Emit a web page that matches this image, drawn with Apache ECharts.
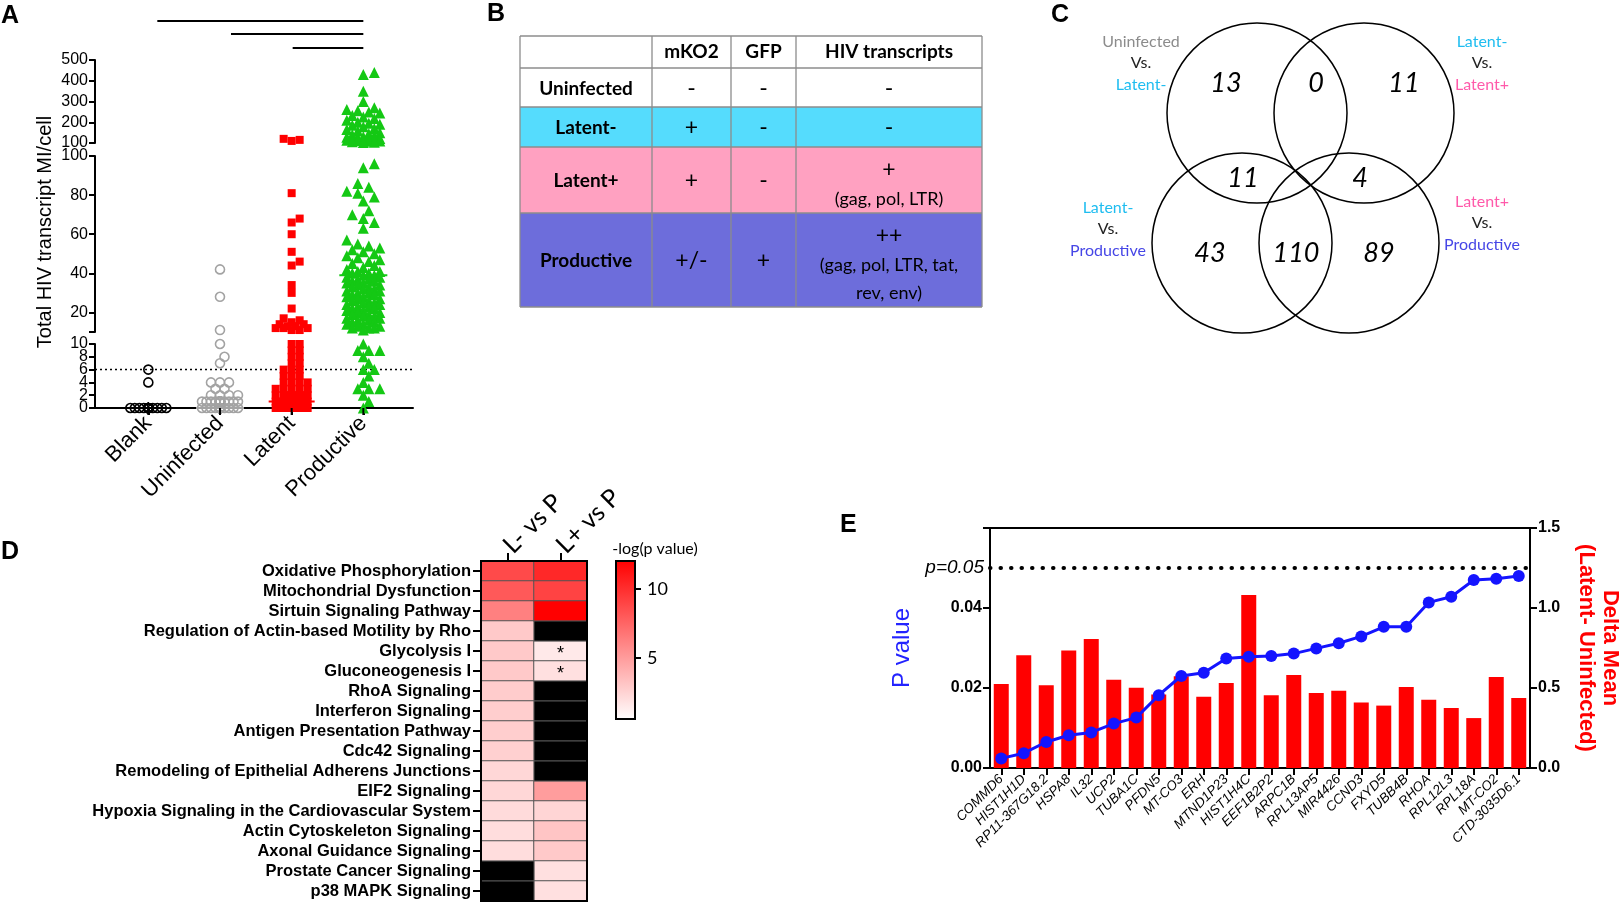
<!DOCTYPE html>
<html>
<head>
<meta charset="utf-8">
<script src="https://cdn.jsdelivr.net/npm/echarts@6/dist/echarts.min.js"></script>
<style>
html,body{margin:0;padding:0;background:#fff;}
#c{width:1619px;height:902px;}
</style>
</head>
<body>
<div id="c"></div>
<script>
// ================= DATA =================
// Panel A : total HIV transcript MI per cell
const groupNames = ['Blank', 'Uninfected', 'Latent', 'Productive'];
const blankValues = [6, 4,
  0,0,0,0,0,0,0,0,0,0,0,0,0,0,0,0,0,0,0,0,0,0,0,0,0,0,0,0];
const uninfectedValues = [42, 28, 11, 10, 8, 7, 4, 4, 4, 3, 3, 2, 2, 2, 2,
  1,1,1,1,1,1,1,1,1,1,1,1,1,1,1,1,1,1,1,1,
  0,0,0,0,0,0,0,0,0,0,0,0,0,0,0,0,0,0,0,0,0,0,0,0,0,0,0,0,0,0,0,0,0,0,0,0,0,0,0,0];
const latentValues = [120, 115, 110, 81, 68, 66, 60, 51, 46, 44, 34, 30, 22, 17, 16, 15, 14, 14, 13, 13, 12, 12, 12, 11, 11,
  10, 10, 9, 9, 8, 8, 7, 7, 6, 6, 6, 5, 5, 5, 4, 4, 4, 4, 3, 3, 3, 3, 3, 2, 2, 2, 2, 2, 2, 2, 2,
  1,1,1,1,1,1,1,1,1,1,1,1,1,1,1,1,1,1,1,1,1,1,1,1,1,1,1,1,1,1,
  0,0,0,0,0,0,0,0,0,0,0,0,0,0,0,0,0,0,0,0,0,0,0,0,0,0,0,0,0,0,0,0,0,0,0,0,0,0,0,0,0,0,0,0,0,0,0,0,0,0];
const productiveValues = [440, 430, 350, 300, 270, 262, 255, 250, 245, 232, 225, 218, 210, 200, 195, 190, 185, 178, 170, 165,
  158, 150, 145, 140, 135, 130, 128, 125, 122, 120, 118, 117, 115, 113, 112, 110, 108, 106, 104, 102,
  96, 94, 86, 84, 82, 81, 79, 77, 72, 70, 68, 66, 63, 57, 55, 54, 53, 52, 51, 50, 49, 48, 47, 46, 45, 44, 43, 42,
  41, 41, 40, 40, 39, 39, 38, 38, 37, 37, 36, 36, 35, 35, 34, 34, 33, 33, 32, 32, 31, 31, 30, 30, 29, 29, 28, 28,
  27, 27, 26, 26, 25, 25, 24, 24, 23, 23, 22, 22, 21, 21, 20, 20, 19, 19, 18, 18, 17, 17, 16, 16, 15, 15, 14, 14,
  13, 13, 12, 12, 12, 11,
  10, 9, 9, 9, 8, 7, 6, 6, 5, 4, 3, 3, 3, 2, 1, 0];
const thresholdValue = 6;
const sigComparisons = [['Blank', 'Productive'], ['Uninfected', 'Productive'], ['Latent', 'Productive']];
const yTicksTop = [100, 200, 300, 400, 500];
const yTicksMid = [20, 40, 60, 80, 100];
const yTicksBottom = [0, 2, 4, 6, 8, 10];

// Panel B : table
const tableHeader = ['', 'mKO2', 'GFP', 'HIV transcripts'];
const tableRowNames = ['Uninfected', 'Latent-', 'Latent+', 'Productive'];
const tableMKO2 = ['-', '+', '+', '+/-'];
const tableGFP = ['-', '-', '-', '+'];
const tableHIV = ['-', '-', '+\n(gag, pol, LTR)', '++\n(gag, pol, LTR, tat,\nrev, env)'];

// Panel C : Venn
const vennComparisons = [['Uninfected', 'Vs.', 'Latent-'], ['Latent-', 'Vs.', 'Latent+'],
  ['Latent-', 'Vs.', 'Productive'], ['Latent+', 'Vs.', 'Productive']];
const vennCounts = [13, 0, 11, 11, 4, 43, 110, 89];

// Panel D : pathway heatmap (-log p)
const pathways = ['Oxidative Phosphorylation', 'Mitochondrial Dysfunction', 'Sirtuin Signaling Pathway',
  'Regulation of Actin-based Motility by Rho', 'Glycolysis I', 'Gluconeogenesis I', 'RhoA Signaling',
  'Interferon Signaling', 'Antigen Presentation Pathway', 'Cdc42 Signaling',
  'Remodeling of Epithelial Adherens Junctions', 'EIF2 Signaling', 'Hypoxia Signaling in the Cardiovascular System',
  'Actin Cytoskeleton Signaling', 'Axonal Guidance Signaling', 'Prostate Cancer Signaling', 'p38 MAPK Signaling'];
const heatColumns = ['L- vs P', 'L+ vs P'];
const lMinusVsP = [8.7, 8.0, 6.3, 3.0, 3.0, 3.0, 2.9, 2.8, 2.8, 2.7, 2.4, 2.4, 2.2, 2.1, 2.1, null, null];
const lPlusVsP = [10.2, 9.0, 12.0, null, 1.6, 2.0, null, null, null, null, null, 5.0, 2.5, 3.2, 3.0, 2.0, 2.0];
const lPlusStars = [false, false, false, false, true, true, false, false, false, false, false, false, false, false, false, false, false];
const heatMin = 0.6, heatMax = 12;
const colorbarTicks = [5, 10];

// Panel E : genes
const genes = ['COMMD6', 'HIST1H1D', 'RP11-367G18.2', 'HSPA8', 'IL32', 'UCP2', 'TUBA1C', 'PFDN5', 'MT-CO3', 'ERH',
  'MTND1P23', 'HIST1H4C', 'EEF1B2P2', 'ARPC1B', 'RPL13AP5', 'MIR4426', 'CCND3', 'FXYD5', 'TUBB4B', 'RHOA',
  'RPL12L3', 'RPL18A', 'MT-CO2', 'CTD-3035D6.1'];
const pValues = [0.0024, 0.0037, 0.0065, 0.0082, 0.0089, 0.0111, 0.0126, 0.0182, 0.0230, 0.0238,
  0.0274, 0.0278, 0.0280, 0.0286, 0.0299, 0.0312, 0.0329, 0.0353, 0.0353, 0.0414,
  0.0428, 0.0470, 0.0473, 0.0480];
const deltaMean = [0.525, 0.704, 0.517, 0.735, 0.806, 0.552, 0.502, 0.460, 0.573, 0.446,
  0.531, 1.081, 0.454, 0.581, 0.469, 0.483, 0.410, 0.390, 0.506, 0.427,
  0.375, 0.312, 0.569, 0.437];
const pThreshold = 0.05;

// ================= STYLE / LAYOUT =================
const F_ARIAL = '"Liberation Sans", Arial, sans-serif';
const F_CAL = 'Lato, "Open Sans", sans-serif';
const groupValues = [blankValues, uninfectedValues, latentValues, productiveValues];
const groupStyle = [
  {symbol: 'circle', size: 9, item: {color: 'rgba(0,0,0,0)', borderColor: '#000', borderWidth: 1.6}, line: '#000', half: 24},
  {symbol: 'circle', size: 9, item: {color: 'rgba(0,0,0,0)', borderColor: '#A3A3A3', borderWidth: 1.6}, line: '#A3A3A3', half: 24},
  {symbol: 'rect', size: 8, item: {color: '#FF0000'}, line: '#FF0000', half: 23},
  {symbol: 'triangle', size: 11, item: {color: '#14C814'}, line: '#14C814', half: 24}
];
const A_LEFT = 95, A_WIDTH = 318;
const A_GRIDS = [{top: 60, height: 83}, {top: 156, height: 176}, {top: 344, height: 64}];
const A_XMIN = 0.256, A_XMAX = 4.693;
const SIG_Y = [21, 34, 48];
const SIG_START_SHIFT = [9, 11, 1];
const HEAT = {left: 481, top: 561, width: 106, height: 340};
const CBAR = {left: 616, top: 561, width: 19, height: 158};
const E = {left: 990, top: 528, width: 540, height: 240};

function seg(v) { return v > 100 ? 0 : (v > 10 ? 1 : 2); }
function median(arr) {
  const s = arr.slice().sort((a, b) => a - b); const n = s.length;
  return n % 2 ? s[(n - 1) / 2] : (s[n / 2 - 1] + s[n / 2]) / 2;
}

const axisLineBlack = {show: true, lineStyle: {color: '#000', width: 2}};
const tickBlack = {show: true, length: 6, lineStyle: {color: '#000', width: 2}};

function textEl(x, y, text, style, extra) {
  return Object.assign({type: 'text', x: x, y: y, z: 50,
    style: Object.assign({text: text, fill: '#000', align: 'center', verticalAlign: 'middle'}, style)}, extra || {});
}

function buildGraphics(layout) {
  const g = [];
  // panel letters
  const letterStyle = {fontFamily: F_ARIAL, fontWeight: 'bold', fontSize: 25, align: 'left'};
  g.push(textEl(1, 16, 'A', letterStyle));
  g.push(textEl(487, 14, 'B', letterStyle));
  g.push(textEl(1051, 15, 'C', letterStyle));
  g.push(textEl(1, 552, 'D', letterStyle));
  g.push(textEl(840, 525, 'E', letterStyle));
  // A y-axis title
  g.push(textEl(45, 232, 'Total HIV transcript MI/cell', {fontFamily: F_ARIAL, fontSize: 20}, {rotation: Math.PI / 2}));
  if (layout) {
    // significance lines
    layout.sigLines.forEach(l => g.push({type: 'line', z: 50, shape: l, style: {stroke: '#000', lineWidth: 2}}));
    // category ticks of panel A x axis
    layout.catX.forEach(x => g.push({type: 'line', z: 50, shape: {x1: x, y1: layout.axisY, x2: x, y2: layout.axisY + 7},
      style: {stroke: '#000', lineWidth: 2}}));
    // tick labels of the lowest y segment (placed through the axis scale)
    layout.bottomTicks.forEach(t => g.push(textEl(A_LEFT - 7, t.y, String(t.v),
      {fontFamily: F_ARIAL, fontSize: 16, align: 'right'})));
  }

  // ---- Table B ----
  const colX = [520, 652, 731, 796, 982];
  const rowY = [36, 68, 107, 147, 213, 307];
  const rowFill = ['#FFFFFF', '#FFFFFF', '#55DCFD', '#FFA1C1', '#6D6DDB'];
  for (let r = 0; r < 5; r++) {
    g.push({type: 'rect', z: 40, shape: {x: colX[0], y: rowY[r], width: colX[4] - colX[0], height: rowY[r + 1] - rowY[r]},
      style: {fill: rowFill[r]}});
  }
  rowY.forEach(y => g.push({type: 'line', z: 41, shape: {x1: colX[0], y1: y, x2: colX[4], y2: y}, style: {stroke: '#8c8c8c', lineWidth: 1.3}}));
  colX.forEach(x => g.push({type: 'line', z: 41, shape: {x1: x, y1: rowY[0], x2: x, y2: rowY[5]}, style: {stroke: '#8c8c8c', lineWidth: 1.3}}));
  const cellRich = {
    s: {fontFamily: F_CAL, fontSize: 23, lineHeight: 30, fill: '#000'},
    t: {fontFamily: F_CAL, fontSize: 18, lineHeight: 28, fill: '#000'}
  };
  function cellText(str) {
    return str.split('\n').map(line => /^[+\-\/]+$/.test(line) ? '{s|' + line + '}' : '{t|' + line + '}').join('\n');
  }
  const colC = [0, 1, 2, 3].map(i => (colX[i] + colX[i + 1]) / 2);
  tableHeader.forEach((h, i) => {
    if (h) g.push(textEl(colC[i], 52, h, {fontFamily: F_CAL, fontWeight: 'bold', fontSize: 19}));
  });
  tableRowNames.forEach((name, r) => {
    const cy = (rowY[r + 1] + rowY[r + 2]) / 2 + 1;
    g.push(textEl(colC[0], cy, name, {fontFamily: F_CAL, fontWeight: 'bold', fontSize: 19}));
    [tableMKO2[r], tableGFP[r], tableHIV[r]].forEach((val, c) => {
      g.push(textEl(colC[c + 1], cy + (val.indexOf('\n') >= 0 ? 3 : 0), cellText(val), {rich: cellRich}));
    });
  });

  // ---- Venn C ----
  const vennCircles = [[1257, 113], [1364, 113], [1242, 243], [1349, 243]];
  vennCircles.forEach(c => g.push({type: 'circle', z: 40, shape: {cx: c[0], cy: c[1], r: 90},
    style: {fill: 'none', stroke: '#000', lineWidth: 1.5}}));
  const vennCountPos = [[1226, 83], [1316, 83], [1404, 83], [1243, 178], [1360, 178], [1210, 253], [1296, 253], [1379, 253]];
  vennCounts.forEach((n, i) => g.push(textEl(vennCountPos[i][0], vennCountPos[i][1], String(n),
    {fontFamily: F_CAL, fontStyle: 'italic', fontSize: 27})));
  const vennColor = {'Uninfected': '#8C8C8C', 'Vs.': '#222222', 'Latent-': '#1FBDF0', 'Latent+': '#FF5AAA', 'Productive': '#4646E6'};
  const vennKey = {'Uninfected': 'u', 'Vs.': 'v', 'Latent-': 'm', 'Latent+': 'p', 'Productive': 'q'};
  const vennRich = {};
  Object.keys(vennKey).forEach(k => { vennRich[vennKey[k]] = {fontFamily: F_CAL, fontSize: 16, lineHeight: 21.5, fill: vennColor[k]}; });
  const vennLabelPos = [[1141, 63], [1482, 63], [1108, 229], [1482, 223]];
  vennComparisons.forEach((lines, i) => {
    const txt = lines.map(l => '{' + vennKey[l] + '|' + l + '}').join('\n');
    g.push(textEl(vennLabelPos[i][0], vennLabelPos[i][1], txt, {rich: vennRich}));
  });

  // ---- D extras ----
  g.push({type: 'rect', z: 60, shape: {x: HEAT.left, y: HEAT.top, width: HEAT.width, height: HEAT.height},
    style: {fill: 'none', stroke: '#000', lineWidth: 2}});
  g.push(textEl(655, 549, '-log(p value)', {fontFamily: F_CAL, fontSize: 16}));

  // ---- E axis titles ----
  g.push(textEl(902, 648, 'P value', {fontFamily: F_ARIAL, fontSize: 24, fill: '#2323FF'}, {rotation: Math.PI / 2}));
  g.push(textEl(1598, 648, 'Delta Mean\n(Latent- Uninfected)', {fontFamily: F_ARIAL, fontWeight: 'bold', fontSize: 22,
    lineHeight: 24, fill: '#FF0000'}, {rotation: -Math.PI / 2}));
  return g;
}

function buildOption(offsets, layout) {
  const grid = [];
  const xAxis = [], yAxis = [], series = [];
  A_GRIDS.forEach((gd, s) => {
    grid.push({left: A_LEFT, top: gd.top, width: A_WIDTH, height: gd.height, outerBoundsMode: 'none', containLabel: false});
    xAxis.push({gridIndex: s, type: 'value', min: A_XMIN, max: A_XMAX, show: s === 2,
      axisLine: axisLineBlack, splitLine: {show: false},
      axisTick: {show: true, customValues: [1, 2, 3, 4], length: 7, lineStyle: {color: '#000', width: 2}},
      axisLabel: {show: true, customValues: [1, 2, 3, 4], rotate: 45, margin: 12, fontFamily: F_ARIAL, fontSize: 22, color: '#000',
        hideOverlap: false, formatter: v => (Number.isInteger(v) && v >= 1 && v <= 4) ? groupNames[v - 1] : ''}});
  });
  const yLabel = {fontFamily: F_ARIAL, fontSize: 16, color: '#000', margin: 7, showMinLabel: true, showMaxLabel: true,
    hideOverlap: false};
  yAxis.push({gridIndex: 0, type: 'value', min: 100, max: 500, interval: 100, axisLine: axisLineBlack, axisTick: tickBlack,
    splitLine: {show: false}, axisLabel: Object.assign({customValues: yTicksTop}, yLabel)});
  yAxis.push({gridIndex: 1, type: 'value', min: 10, max: 100, axisLine: axisLineBlack,
    axisTick: Object.assign({customValues: [10].concat(yTicksMid)}, tickBlack),
    splitLine: {show: false}, axisLabel: Object.assign({customValues: yTicksMid}, yLabel)});
  // lowest segment: labels are drawn as graphic texts (crowded ticks would otherwise be thinned)
  yAxis.push({gridIndex: 2, type: 'value', min: 0, max: 10, interval: 2, axisLine: axisLineBlack,
    axisTick: Object.assign({customValues: yTicksBottom}, tickBlack),
    splitLine: {show: false}, axisLabel: {show: false}});

  groupValues.forEach((vals, gi) => {
    const st = groupStyle[gi];
    for (let s = 0; s < 3; s++) {
      const data = [];
      vals.forEach((v, i) => {
        if (seg(v) === s) data.push({value: [gi + 1, v], symbolOffset: [offsets ? offsets[gi][i] : 0, 0]});
      });
      const ser = {type: 'scatter', xAxisIndex: s, yAxisIndex: s, symbol: st.symbol, symbolSize: st.size,
        itemStyle: Object.assign({opacity: 1}, st.item), data: data, silent: true, clip: false, z: 3 + gi};
      if (gi === 0 && s === 2) {
        ser.markLine = {silent: true, symbol: 'none', label: {show: false},
          lineStyle: {type: [2, 3], color: '#000', width: 1.3}, data: [{yAxis: thresholdValue}]};
      }
      series.push(ser);
    }
    const m = median(vals);
    series.push({type: 'custom', xAxisIndex: seg(m), yAxisIndex: seg(m), silent: true, z: 10, clip: false,
      data: [[gi + 1, m]],
      renderItem: (params, api) => {
        const p = api.coord([api.value(0), api.value(1)]);
        return {type: 'line', shape: {x1: p[0] - st.half, y1: p[1], x2: p[0] + st.half, y2: p[1]},
          style: {stroke: st.line, lineWidth: 2}};
      }});
  });

  // ---- D heatmap ----
  grid.push({left: HEAT.left, top: HEAT.top, width: HEAT.width, height: HEAT.height, outerBoundsMode: 'none', containLabel: false});
  grid.push({left: CBAR.left, top: CBAR.top, width: CBAR.width, height: CBAR.height, outerBoundsMode: 'none', containLabel: false});
  xAxis.push({gridIndex: 3, type: 'category', data: heatColumns, position: 'top',
    axisLine: axisLineBlack, axisTick: {show: true, alignWithLabel: true, length: 8, lineStyle: {color: '#000', width: 2}},
    axisLabel: {rotate: -45, margin: 12, fontFamily: F_CAL, fontSize: 25, color: '#000', interval: 0}, splitLine: {show: false}});
  yAxis.push({gridIndex: 3, type: 'category', data: pathways, inverse: true,
    axisLine: axisLineBlack, axisTick: {show: true, alignWithLabel: true, length: 8, lineStyle: {color: '#000', width: 2}},
    axisLabel: {margin: 10, fontFamily: F_ARIAL, fontWeight: 'bold', fontSize: 16.5, color: '#000', interval: 0, hideOverlap: false},
    splitLine: {show: false}});
  xAxis.push({gridIndex: 4, type: 'category', data: [''], show: false});
  yAxis.push({gridIndex: 4, type: 'value', min: heatMin, max: heatMax, position: 'right',
    axisLine: {show: false}, splitLine: {show: false},
    axisTick: {show: true, customValues: colorbarTicks, length: 6, inside: false, lineStyle: {color: '#000', width: 2}},
    axisLabel: {customValues: colorbarTicks, margin: 12, fontFamily: F_CAL, fontSize: 18, color: '#000'}});

  const heatData = [], naData = [];
  [lMinusVsP, lPlusVsP].forEach((col, ci) => col.forEach((v, ri) => {
    if (v === null) naData.push([ci, ri]); else heatData.push([ci, ri, v]);
  }));
  const heatSeriesIndex = series.length;
  series.push({type: 'heatmap', xAxisIndex: 3, yAxisIndex: 3, data: heatData, silent: true,
    itemStyle: {borderColor: '#555', borderWidth: 1},
    label: {show: true, fontSize: 18, color: '#000', fontFamily: F_ARIAL, offset: [0, 3],
      formatter: p => (p.value[0] === 1 && lPlusStars[p.value[1]]) ? '*' : ''}});
  series.push({type: 'custom', xAxisIndex: 3, yAxisIndex: 3, data: naData, silent: true,
    renderItem: (params, api) => {
      const c = api.coord([api.value(0), api.value(1)]);
      const sz = api.size([1, 1]);
      return {type: 'rect', shape: {x: c[0] - sz[0] / 2, y: c[1] - sz[1] / 2, width: sz[0], height: sz[1]},
        style: {fill: '#000', stroke: '#555', lineWidth: 1}};
    }});
  series.push({type: 'custom', xAxisIndex: 4, yAxisIndex: 4, data: [[0, heatMin, heatMax]], silent: true,
    renderItem: (params, api) => {
      const top = api.coord([0, api.value(2)]);
      const bot = api.coord([0, api.value(1)]);
      const w = api.size([1, 0])[0];
      return {type: 'rect', shape: {x: top[0] - w / 2, y: top[1], width: w, height: bot[1] - top[1]},
        style: {fill: new echarts.graphic.LinearGradient(0, 0, 0, 1, [{offset: 0, color: '#FF0000'}, {offset: 1, color: '#FFFFFF'}]),
          stroke: '#000', lineWidth: 2}};
    }});

  // ---- E ----
  grid.push({left: E.left, top: E.top, width: E.width, height: E.height, show: true, borderColor: '#000', borderWidth: 2,
    backgroundColor: 'transparent', outerBoundsMode: 'none', containLabel: false});
  xAxis.push({gridIndex: 5, type: 'category', data: genes, axisLine: axisLineBlack,
    axisTick: {show: true, alignWithLabel: true, length: 7, lineStyle: {color: '#000', width: 2}},
    axisLabel: {interval: 0, rotate: 45, margin: 9, fontFamily: F_ARIAL, fontStyle: 'italic', fontSize: 13.5, color: '#000',
      hideOverlap: false},
    splitLine: {show: false}});
  yAxis.push({gridIndex: 5, type: 'value', min: 0, max: 0.06, interval: 0.02, position: 'left',
    axisLine: axisLineBlack, axisTick: {show: true, length: 7, lineStyle: {color: '#000', width: 2}}, splitLine: {show: false},
    axisLabel: {fontFamily: F_ARIAL, fontWeight: 'bold', fontSize: 16, color: '#000', margin: 8,
      formatter: v => v > 0.055 ? '' : v.toFixed(2)}});
  yAxis.push({gridIndex: 5, type: 'value', min: 0, max: 1.5, interval: 0.5, position: 'right',
    axisLine: axisLineBlack, axisTick: {show: true, length: 7, lineStyle: {color: '#000', width: 2}}, splitLine: {show: false},
    axisLabel: {fontFamily: F_ARIAL, fontWeight: 'bold', fontSize: 16, color: '#000', margin: 8, formatter: v => v.toFixed(1)}});
  series.push({type: 'bar', xAxisIndex: 5, yAxisIndex: 6, data: deltaMean, barWidth: 15, silent: true,
    itemStyle: {color: '#FF0000'}, z: 2});
  series.push({type: 'line', xAxisIndex: 5, yAxisIndex: 5, data: pValues, silent: true, z: 5,
    symbol: 'circle', symbolSize: 12, itemStyle: {color: '#1414FF'}, lineStyle: {color: '#1414FF', width: 3},
    markLine: {silent: true, symbol: 'none', data: [{yAxis: pThreshold}],
      lineStyle: {type: [0.5, 10], cap: 'round', color: '#000', width: 4},
      label: {show: true, position: 'start', distance: 6, formatter: 'p=0.05', fontFamily: F_ARIAL, fontStyle: 'italic',
        fontSize: 19, color: '#000'}}});

  return {
    backgroundColor: '#fff',
    animation: false,
    grid: grid, xAxis: xAxis, yAxis: yAxis, series: series,
    visualMap: [{type: 'continuous', show: false, seriesIndex: heatSeriesIndex, dimension: 2, min: heatMin, max: heatMax,
      inRange: {color: ['#FFFFFF', '#FF0000']}}],
    graphic: {elements: buildGraphics(layout)}
  };
}

const chart = echarts.init(document.getElementById('c'), null, {renderer: 'canvas'});
chart.setOption(buildOption(null, null));

// ---- beeswarm layout (pixel offsets from category centre) ----
function swarm(pys, d, maxHalf, minDist) {
  const idx = pys.map((py, i) => i).sort((a, b) => pys[b] - pys[a]);
  const placed = [];
  const dx = new Array(pys.length).fill(0);
  const step = d * 0.5;
  const nSteps = Math.floor(maxHalf / step);
  idx.forEach(i => {
    let best = 0, bestScore = -1;
    for (let k = 0; k <= nSteps * 2; k++) {
      const off = (k % 2 === 1 ? 1 : -1) * Math.ceil(k / 2) * step;
      let mind = Infinity;
      for (const q of placed) {
        const dy = pys[i] - q.py;
        if (Math.abs(dy) < minDist) { const dd = Math.hypot(off - q.dx, dy); if (dd < mind) mind = dd; }
      }
      if (mind >= minDist) { best = off; bestScore = mind; break; }
      if (mind > bestScore) { bestScore = mind; best = off; }
    }
    dx[i] = best + 0;
    placed.push({py: pys[i], dx: best});
  });
  return dx;
}
const offsets = groupValues.map((vals, gi) => {
  const pys = vals.map(v => chart.convertToPixel({gridIndex: seg(v)}, [gi + 1, v])[1]);
  const st = groupStyle[gi];
  return swarm(pys, st.size, st.half - st.size / 2, st.size * 0.75);
});
const catX = groupNames.map((n, gi) => chart.convertToPixel({gridIndex: 2}, [gi + 1, 0])[0]);
const axisY = chart.convertToPixel({gridIndex: 2}, [1, 0])[1];
const bottomTicks = yTicksBottom.map(v => ({v: v, y: chart.convertToPixel({gridIndex: 2}, [1, v])[1]}));
const sigLines = sigComparisons.map((pair, k) => ({
  x1: catX[groupNames.indexOf(pair[0])] + SIG_START_SHIFT[k], y1: SIG_Y[k], x2: catX[groupNames.indexOf(pair[1])], y2: SIG_Y[k]}));
chart.setOption(buildOption(offsets, {sigLines: sigLines, catX: catX, axisY: axisY, bottomTicks: bottomTicks}), true);
</script>
</body>
</html>
